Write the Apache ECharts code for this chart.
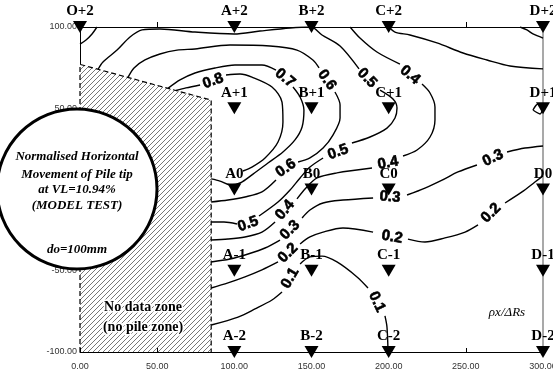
<!DOCTYPE html>
<html>
<head>
<meta charset="utf-8">
<script src="https://cdn.jsdelivr.net/npm/echarts/dist/echarts.min.js"></script>
<style>
  html, body { margin: 0; padding: 0; background: #fff; }
  #chart { width: 553px; height: 374px; }
</style>
</head>
<body>
<div id="chart"></div>
<script>
// Axis ranges and tick steps
const xRange = [0, 300];
const yRange = [-100, 100];
const tickStep = 50;

// Pile grid: columns (x, mm) and rows (y, mm)
const pileCols = ['A', 'B', 'C', 'D'];
const pileColX = [100, 150, 200, 300];
const pileRows = ['+2', '+1', '0', '-1', '-2'];
const pileRowY = [100, 50, 0, -50, -100];
const extraPiles = [['O+2', 0, 100]];

// Region without data (no piles)
const noDataZone = [[0, -100], [0, 77], [85, 55], [85, -100]];

// Contour lines of normalised horizontal movement; each level is a list of
// segments, broken where the level value is written on the line.
const level08 = [
  [[62.2, 60.9], [68.7, 62.5], [77.8, 64.3]],
  [[94.6, 70.5], [103.7, 71.1], [111.4, 69.2], [124.4, 63.1], [130.9, 53.8], [131.5, 41.5],
   [128.3, 29.2], [119.9, 19.4], [111.4, 13.8], [105.6, 11.4]]
];
const level07 = [
  [[57.0, 62.2], [64.8, 67.4], [74.5, 71.7], [87.5, 74.8], [100.4, 76.6], [117.9, 76.6], [127.0, 73.5]],
  [[138.0, 63.1], [142.6, 56.9], [145.1, 48.9], [143.9, 38.5], [139.3, 30.5], [131.5, 23.1],
   [121.8, 16.3], [112.1, 9.5], [103.7, 4.0], [97.2, 2.8], [90.7, 5.2], [85, 6.5]]
];
const level06 = [
  [[31.1, 69.0], [35.0, 74.8], [42.1, 79.7], [51.8, 83.4], [62.9, 85.8], [74.5, 86.5], [97.2, 88.9],
   [123.1, 88.3], [140.6, 85.8], [150.9, 79.7], [154.9, 74.8]],
  [[165.2, 60.0], [168.5, 52.0], [168.5, 44.0], [163.9, 33.5], [157.5, 25.5], [149.0, 19.4], [141.3, 16.9]],
  [[127.0, 5.8], [117.9, -1.5], [106.9, -4.6], [95.9, -6.5], [85, -7.7]]
];
const level05 = [
  [[11.7, 74.0], [14.9, 78.5], [24.0, 85.8], [32.4, 93.8], [40.2, 98.2], [51.8, 98.8], [74.5, 96.9],
   [99.8, 95.7], [116.6, 97.5], [136.1, 99.4], [149.7, 100], [156.8, 95.1], [168.5, 88.3], [180.8, 74.2]],
  [[194.4, 61.2], [202.8, 55.7], [205.4, 50.2], [204.1, 44.0], [198.9, 37.8], [187.9, 32.3], [176.2, 28.6]],
  [[157.5, 19.4], [149.0, 13.8], [142.6, 7.1], [136.1, -0.3], [128.3, -7.7], [116.0, -16.3]],
  [[101.7, -21.2], [93.3, -20.0], [85, -20.0]]
];
const level04 = [
  [[175.0, 100], [181.4, 93.2], [192.4, 84.6], [207.3, 77.2]],
  [[221.6, 64.9], [226.8, 59.4], [230.0, 50.8], [230.0, 42.8], [226.8, 32.3], [218.4, 24.3], [209.3, 20.6]],
  [[189.2, 13.2], [166.5, 10.2], [153.6, 7.1], [146.4, 0.9], [140.6, -5.8]],
  [[126.4, -20.0], [117.9, -26.2], [106.9, -29.2], [95.9, -30.5], [85, -31.1]]
];
const level04Corner = [
  [[11.0, 100], [7.8, 95.7], [3.9, 92.0], [0, 89.5]]
];
const level03 = [
  [[300, 26.8], [288.3, 25.5], [276.7, 23.1]],
  [[257.2, 15.1], [244.9, 10.8], [234.6, 5.8], [223.5, 0.9], [211.9, -3.4]],
  [[189.9, -5.2], [170.4, -6.5], [157.5, -8.3], [149.0, -12.6], [143.9, -17.5]],
  [[129.6, -31.1], [119.9, -36.0], [108.9, -39.7], [97.2, -42.8], [85, -44.6]]
];
const level03Top = [
  [[200.2, 100], [204.1, 96.9], [213.8, 95.1], [231.3, 90.2], [248.2, 84.0], [263.7, 79.7], [278.6, 76.0], [300, 74.2]]
];
const level03Loop = [
  [[293.5, 48.9], [296.8, 52.6], [300, 51.4], [298.1, 46.5], [293.5, 48.9]]
];
const level02 = [
  [[300, 8.3], [294.8, 4.6], [286.4, -1.5], [275.4, -8.3]],
  [[257.9, -21.8], [249.5, -26.2], [236.5, -29.8], [223.5, -32.3], [212.5, -30.5]],
  [[189.9, -26.2], [170.4, -23.7], [157.5, -26.2], [149.0, -29.2], [142.6, -33.5]],
  [[128.3, -44.6], [117.9, -49.5], [106.9, -53.8], [95.9, -57.5], [85, -60.6]]
];
const level02Corner = [
  [[285.1, 100], [289.6, 98.2], [293.5, 95.7], [300, 93.2]]
];
const level01 = [
  [[85, -83.4], [102.4, -78.5], [113.4, -73.5], [124.4, -68.0], [130.9, -63.1]],
  [[142.6, -45.8], [149.0, -41.5], [156.8, -41.0], [166.5, -44.6], [179.5, -53.8], [186.6, -60.6]],
  [[197.6, -77.8], [198.9, -84.6], [199.6, -100]]
];

// Level values written on the lines: [x, y, text]
const contourLabels = [
  [86.2, 66.8, '0.8'], [132.8, 68.6, '0.7'], [160.0, 67.4, '0.6'], [186.0, 68.6, '0.5'],
  [213.8, 70.5, '0.4'], [133.5, 13.2, '0.6'], [167.2, 23.1, '0.5'], [199.6, 16.3, '0.4'],
  [267.6, 19.4, '0.3'], [200.9, -4.6, '0.3'], [266.3, -14.5, '0.2'], [202.2, -29.2, '0.2'],
  [108.9, -21.2, '0.5'], [132.8, -12.6, '0.4'], [136.1, -24.9, '0.3'], [134.8, -39.1, '0.2'],
  [136.1, -54.5, '0.1'], [192.4, -69.2, '0.1']
];
const contourLabelAngles = [20, -40, -55, -45, -40, 35, 20, 10, 25, -5, 45, -10, 20, 50, 45, 45, 60, -65];

const contourSets = [level01, level02, level02Corner, level03, level03Top, level03Loop,
  level04, level04Corner, level05, level06, level07, level08];

// Diagonal hatch pattern for the no-data zone
function makeHatch() {
  const c = document.createElement('canvas');
  c.width = 5; c.height = 5;
  const g = c.getContext('2d');
  g.strokeStyle = '#4a4a4a';
  g.lineWidth = 0.75;
  g.beginPath();
  g.moveTo(0, 5); g.lineTo(5, 0);
  g.moveTo(-1, 1); g.lineTo(1, -1);
  g.moveTo(4, 6); g.lineTo(6, 4);
  g.stroke();
  return c;
}
const hatch = makeHatch();

const piles = [];
pileCols.forEach((c, i) => pileRows.forEach((r, j) => {
  piles.push({ name: c + r, value: [pileColX[i], pileRowY[j]] });
}));
extraPiles.forEach(p => piles.push({ name: p[0], value: [p[1], p[2]] }));

const series = [];

series.push({
  type: 'custom',
  z: 1,
  silent: true,
  data: [[0, 0]],
  renderItem: (params, api) => {
    const pts = noDataZone.map(p => api.coord(p));
    return {
      type: 'group',
      children: [
        { type: 'polygon', shape: { points: pts }, style: { fill: '#fff' } },
        { type: 'polygon', shape: { points: pts }, style: { fill: { image: hatch, repeat: 'repeat' } } },
        { type: 'polyline', shape: { points: pts }, style: { fill: null, stroke: '#000', lineWidth: 1.2, lineDash: [5, 3] } }
      ]
    };
  }
});

contourSets.forEach(level => level.forEach(seg => {
  series.push({
    type: 'line',
    z: 2,
    silent: true,
    data: seg,
    showSymbol: false,
    symbol: 'none',
    smooth: 0.3,
    lineStyle: { color: '#000', width: 1.4 }
  });
}));

series.push({
  type: 'scatter',
  z: 4,
  silent: true,
  symbolSize: 1,
  itemStyle: { color: 'rgba(0,0,0,0)', opacity: 1 },
  data: contourLabels.map((d, i) => ({
    value: [d[0], d[1]],
    label: { formatter: d[2], rotate: contourLabelAngles[i] }
  })),
  label: {
    show: true,
    position: 'inside',
    color: '#000',
    fontFamily: 'Liberation Sans',
    fontWeight: 'bold',
    fontSize: 15,
    textBorderColor: '#000',
    textBorderWidth: 0.6
  }
});

series.push({
  type: 'scatter',
  z: 5,
  silent: true,
  clip: false,
  symbol: 'triangle',
  symbolRotate: 180,
  symbolSize: [14, 12],
  itemStyle: { color: '#000', opacity: 1 },
  data: piles,
  label: {
    show: true,
    position: 'top',
    distance: 2,
    formatter: p => p.name,
    color: '#000',
    fontFamily: 'Liberation Serif',
    fontWeight: 'bold',
    fontSize: 15
  }
});

const circleFont = 'italic bold 13px "Liberation Serif"';
const zoneFont = 'bold 14px "Liberation Serif"';

const chart = echarts.init(document.getElementById('chart'), null, { renderer: 'canvas' });
chart.setOption({
  animation: false,
  backgroundColor: '#fff',
  grid: { left: 80, right: 10, top: 27, bottom: 22, containLabel: false, outerBoundsMode: 'none' },
  xAxis: [
    {
      type: 'value', min: xRange[0], max: xRange[1], interval: tickStep, position: 'bottom', z: 6,
      axisLine: { show: true, onZero: false, lineStyle: { color: '#000', width: 1 } },
      axisTick: { show: true, inside: true, length: 4, lineStyle: { color: '#000' } },
      axisLabel: { formatter: v => v.toFixed(2), fontSize: 9, color: '#333', margin: 10, fontFamily: 'Liberation Sans' },
      splitLine: { show: false }
    },
    {
      type: 'value', min: xRange[0], max: xRange[1], interval: tickStep, position: 'top',
      axisLine: { show: true, onZero: false, lineStyle: { color: '#000', width: 1 } },
      axisTick: { show: true, inside: false, length: 5, lineStyle: { color: '#000' } },
      axisLabel: { show: false },
      splitLine: { show: false }
    }
  ],
  yAxis: [
    {
      type: 'value', min: yRange[0], max: yRange[1], interval: tickStep, position: 'left',
      axisLine: { show: true, onZero: false, lineStyle: { color: '#000', width: 1 } },
      axisTick: { show: false },
      axisLabel: { formatter: v => v.toFixed(2), fontSize: 9, color: '#333', margin: 3, fontFamily: 'Liberation Sans' },
      splitLine: { show: false }
    },
    {
      type: 'value', min: yRange[0], max: yRange[1], interval: tickStep, position: 'right',
      axisLine: { show: true, onZero: false, lineStyle: { color: '#8c8c8c', width: 1.5 } },
      axisTick: { show: false },
      axisLabel: { show: false },
      splitLine: { show: false }
    }
  ],
  series: series,
  graphic: [
    { type: 'circle', z: 100, shape: { cx: 77, cy: 189, r: 80 }, style: { fill: '#fff', stroke: '#000', lineWidth: 3 } },
    { type: 'text', z: 101, x: 77, y: 157, style: { text: 'Normalised Horizontal', font: circleFont, fill: '#000', align: 'center', verticalAlign: 'middle' } },
    { type: 'text', z: 101, x: 77, y: 175, style: { text: 'Movement of Pile tip', font: circleFont, fill: '#000', align: 'center', verticalAlign: 'middle' } },
    { type: 'text', z: 101, x: 77, y: 190, style: { text: 'at VL=10.94%', font: circleFont, fill: '#000', align: 'center', verticalAlign: 'middle' } },
    { type: 'text', z: 101, x: 77, y: 206, style: { text: '(MODEL TEST)', font: circleFont, fill: '#000', align: 'center', verticalAlign: 'middle' } },
    { type: 'text', z: 101, x: 77, y: 250, style: { text: 'do=100mm', font: circleFont, fill: '#000', align: 'center', verticalAlign: 'middle' } },
    { type: 'text', z: 101, x: 143, y: 307, style: { text: 'No data zone', font: zoneFont, fill: '#000', stroke: '#fff', lineWidth: 3, strokeFirst: true, align: 'center', verticalAlign: 'middle' } },
    { type: 'text', z: 101, x: 143, y: 327, style: { text: '(no pile zone)', font: zoneFont, fill: '#000', stroke: '#fff', lineWidth: 3, strokeFirst: true, align: 'center', verticalAlign: 'middle' } },
    { type: 'text', z: 101, x: 507, y: 313, style: { text: 'ρx/ΔRs', font: 'italic 13px "Liberation Serif"', fill: '#000', align: 'center', verticalAlign: 'middle' } }
  ]
});
</script>
</body>
</html>
